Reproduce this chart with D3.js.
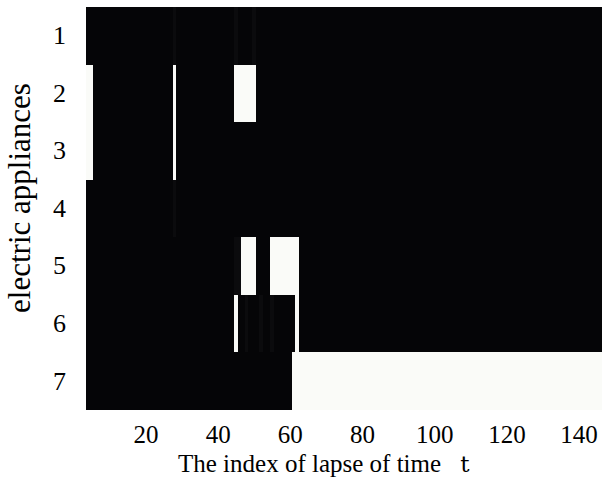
<!DOCTYPE html>
<html>
<head>
<meta charset="utf-8">
<script src="https://cdn.jsdelivr.net/npm/d3@7"></script>
<style>
  body { margin: 0; background: #fff; }
  text { font-family: 'Liberation Serif', 'Times New Roman', serif; fill: #000; }
</style>
</head>
<body>
<div id="chart"></div>
<script>
// appliances (rows) and the time columns shown
const appliances = [1, 2, 3, 4, 5, 6, 7];
const timeRange = [4, 146];
const xTicks = [20, 40, 60, 80, 100, 120, 140];

// switched-on intervals per appliance, [first t, last t] inclusive
const onApp1 = [];
const onApp2 = [[4, 5], [28, 28], [45, 50]];
const onApp3 = [[4, 5], [28, 28]];
const onApp4 = [];
const onApp5 = [[47, 50], [55, 62]];
const onApp6 = [[45, 45], [62, 62]];
const onApp7 = [[61, 146]];

// very faint traces (almost off)
const faintApp1 = [[28, 28], [45, 45], [50, 50]];
const faintApp4 = [[28, 28]];
const faintApp5 = [[45, 46]];
const faintApp6 = [[48, 48], [52, 52], [55, 55]];

const onLevel = 1;
const faintLevel = 0.025;

const width = 602;
const height = 479;
const plot = { left: 86, right: 602, top: 7, bottom: 410 };

const svg = d3.select('#chart')
  .append('svg')
  .attr('width', width)
  .attr('height', height);

const xScale = d3.scaleLinear()
  .domain([timeRange[0] - 0.5, timeRange[1] + 0.5])
  .range([plot.left, plot.right]);

const yScale = d3.scaleBand()
  .domain(appliances)
  .range([plot.top, plot.bottom])
  .padding(0);

const color = d3.scaleLinear()
  .domain([0, 1])
  .range(['#050507', '#fafbf8']);

// build the list of intervals for drawing
const onSets = [onApp1, onApp2, onApp3, onApp4, onApp5, onApp6, onApp7];
const faintSets = [faintApp1, [], [], faintApp4, faintApp5, faintApp6, []];
const segments = [];
appliances.forEach((a, i) => {
  faintSets[i].forEach(([s, e]) => segments.push({ app: a, start: s, end: e, v: faintLevel }));
  onSets[i].forEach(([s, e]) => segments.push({ app: a, start: s, end: e, v: onLevel }));
});

// background: everything off
svg.append('rect')
  .attr('x', xScale.range()[0])
  .attr('y', yScale.range()[0])
  .attr('width', xScale.range()[1] - xScale.range()[0])
  .attr('height', yScale.range()[1] - yScale.range()[0])
  .attr('fill', color(0));

svg.append('g')
  .attr('shape-rendering', 'crispEdges')
  .selectAll('rect')
  .data(segments)
  .enter()
  .append('rect')
  .attr('x', (d) => xScale(d.start - 0.5))
  .attr('y', (d) => yScale(d.app))
  .attr('width', (d) => xScale(d.end + 0.5) - xScale(d.start - 0.5))
  .attr('height', yScale.bandwidth())
  .attr('fill', (d) => color(d.v));

// x axis
const xAxis = svg.append('g')
  .attr('transform', `translate(0, ${plot.bottom + 15})`)
  .call(d3.axisBottom(xScale).tickValues(xTicks).tickSize(0).tickPadding(0));
xAxis.select('.domain').remove();
xAxis.selectAll('text')
  .attr('dy', '0.71em')
  .style('font-family', "'Liberation Serif', serif")
  .style('font-size', '25px');

// y axis
const yAxis = svg.append('g')
  .attr('transform', `translate(${plot.left - 20}, 0)`)
  .call(d3.axisLeft(yScale).tickSize(0).tickPadding(0));
yAxis.select('.domain').remove();
yAxis.selectAll('text')
  .style('font-family', "'Liberation Serif', serif")
  .style('font-size', '26px');

// titles
const xTitle = svg.append('text')
  .attr('x', 178)
  .attr('y', 472)
  .style('font-size', '25px');
xTitle.append('tspan').text('The index of lapse of time');
xTitle.append('tspan')
  .attr('dx', 19)
  .style('font-family', "'DejaVu Serif', serif")
  .style('font-size', '23px')
  .text('t');

svg.append('text')
  .attr('transform', 'translate(30, 198) rotate(-90)')
  .style('text-anchor', 'middle')
  .style('font-size', '31px')
  .text('electric appliances');
</script>
</body>
</html>
